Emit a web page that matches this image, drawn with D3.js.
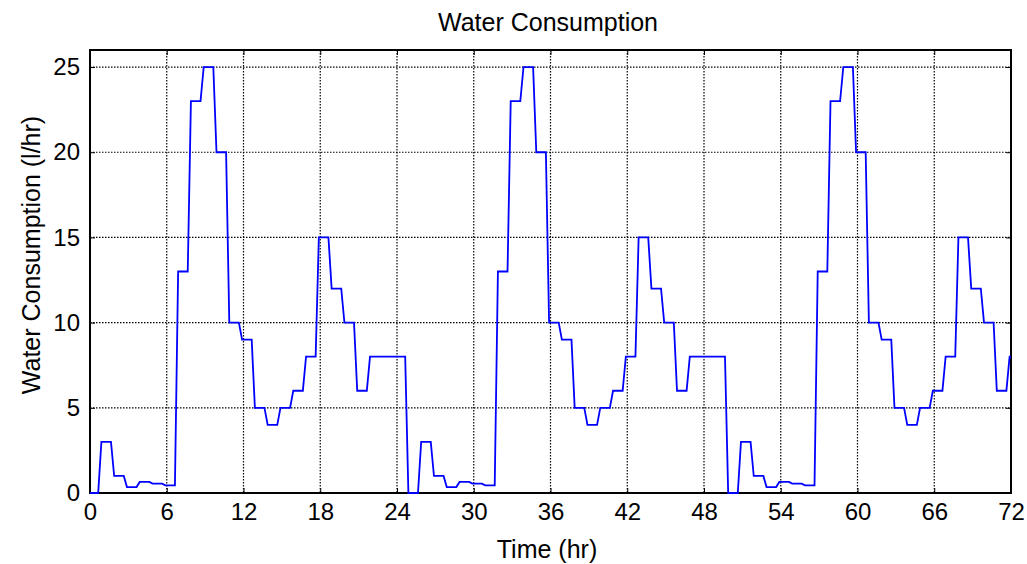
<!DOCTYPE html>
<html>
<head>
<meta charset="utf-8">
<script src="https://cdn.jsdelivr.net/npm/d3@7"></script>
<style>
  html, body { margin: 0; padding: 0; background: #fff; }
  svg { display: block; font-family: Arial, "Liberation Sans", Helvetica, sans-serif; }
</style>
</head>
<body>
<svg id="chart" width="1027" height="564"></svg>
<script>
// ---- data (hourly water-consumption level, l/hr; index = hour) ----
const consumption = [
  0, 3, 1, 0.35, 0.65, 0.55, 0.45, 13, 23, 25, 20, 10, 9, 5, 4, 5, 6, 8, 15, 12, 10, 6, 8, 8, 8,
  0, 3, 1, 0.35, 0.65, 0.55, 0.45, 13, 23, 25, 20, 10, 9, 5, 4, 5, 6, 8, 15, 12, 10, 6, 8, 8, 8,
  0, 3, 1, 0.35, 0.65, 0.55, 0.45, 13, 23, 25, 20, 10, 9, 5, 4, 5, 6, 8, 15, 12, 10, 6, 8
];
const xTicks = [0, 6, 12, 18, 24, 30, 36, 42, 48, 54, 60, 66, 72];
const yTicks = [0, 5, 10, 15, 20, 25];
const titleText = "Water Consumption";
const xLabel = "Time (hr)";
const yLabel = "Water Consumption (l/hr)";

(function () {
// ---- layout ----
const svg = d3.select("#chart");
const pLeft = 90, pRight = 1011, pTop = 50, pBottom = 493;
const x = d3.scaleLinear().domain([0, 72]).range([pLeft, pRight]);
const y = d3.scaleLinear().domain([0, 26]).range([pBottom, pTop]);

// grid
const grid = svg.append("g");
grid.selectAll("line.vx").data(xTicks.slice(1, -1)).join("line")
  .attr("x1", d => x(d)).attr("x2", d => x(d))
  .attr("y1", pTop).attr("y2", pBottom)
  .attr("stroke", "#000").attr("stroke-width", 1.2).attr("stroke-dasharray", "1.5,1.5");
grid.selectAll("line.hy").data(yTicks.slice(1)).join("line")
  .attr("x1", pLeft).attr("x2", pRight)
  .attr("y1", d => y(d)).attr("y2", d => y(d))
  .attr("stroke", "#000").attr("stroke-width", 1.2).attr("stroke-dasharray", "1.5,1.5");

// axes
const tickLen = 5;
const xAxisB = d3.axisBottom(x).tickValues(xTicks).tickSizeInner(-tickLen).tickSizeOuter(0).tickPadding(10);
const xAxisT = d3.axisTop(x).tickValues(xTicks).tickSizeInner(-tickLen).tickSizeOuter(0).tickFormat("");
const yAxisL = d3.axisLeft(y).tickValues(yTicks).tickSizeInner(-tickLen).tickSizeOuter(0).tickPadding(10);
const yAxisR = d3.axisRight(y).tickValues(yTicks).tickSizeInner(-tickLen).tickSizeOuter(0).tickFormat("");

function styleAxis(g) {
  g.select(".domain").remove();
  g.selectAll(".tick line").attr("stroke", "#000").attr("stroke-width", 1);
  g.selectAll(".tick text").attr("fill", "#000").style("font-size", "24px")
   .style("font-family", "Arial, 'Liberation Sans', Helvetica, sans-serif");
}
svg.append("g").attr("transform", `translate(0,${pBottom})`).call(xAxisB).call(styleAxis);
svg.append("g").attr("transform", `translate(0,${pTop})`).call(xAxisT).call(styleAxis);
svg.append("g").attr("transform", `translate(${pLeft},0)`).call(yAxisL).call(styleAxis);
svg.append("g").attr("transform", `translate(${pRight},0)`).call(yAxisR).call(styleAxis);

// frame
svg.append("rect")
  .attr("x", pLeft).attr("y", pTop)
  .attr("width", pRight - pLeft).attr("height", pBottom - pTop)
  .attr("fill", "none").attr("stroke", "#000").attr("stroke-width", 2);

// series: each hourly level held as a plateau with short linear transitions
const pts = [];
consumption.forEach((v, k) => {
  pts.push([Math.max(0, k - 0.11), v]);
  pts.push([Math.min(72, k + 0.64), v]);
});
const line = d3.line().x(d => x(d[0])).y(d => y(d[1]));
svg.append("path")
  .attr("d", line(pts))
  .attr("fill", "none").attr("stroke", "#0000ff").attr("stroke-width", 1.8)
  .attr("stroke-linejoin", "miter");

// texts
svg.append("text").attr("x", 548).attr("y", 31)
  .attr("text-anchor", "middle").style("font-size", "25px").text(titleText);
svg.append("text").attr("x", 547).attr("y", 558)
  .attr("text-anchor", "middle").style("font-size", "25px").text(xLabel);
svg.append("text").attr("transform", `translate(40,255) rotate(-90)`)
  .attr("text-anchor", "middle").style("font-size", "25px").text(yLabel);
})();
</script>
</body>
</html>
